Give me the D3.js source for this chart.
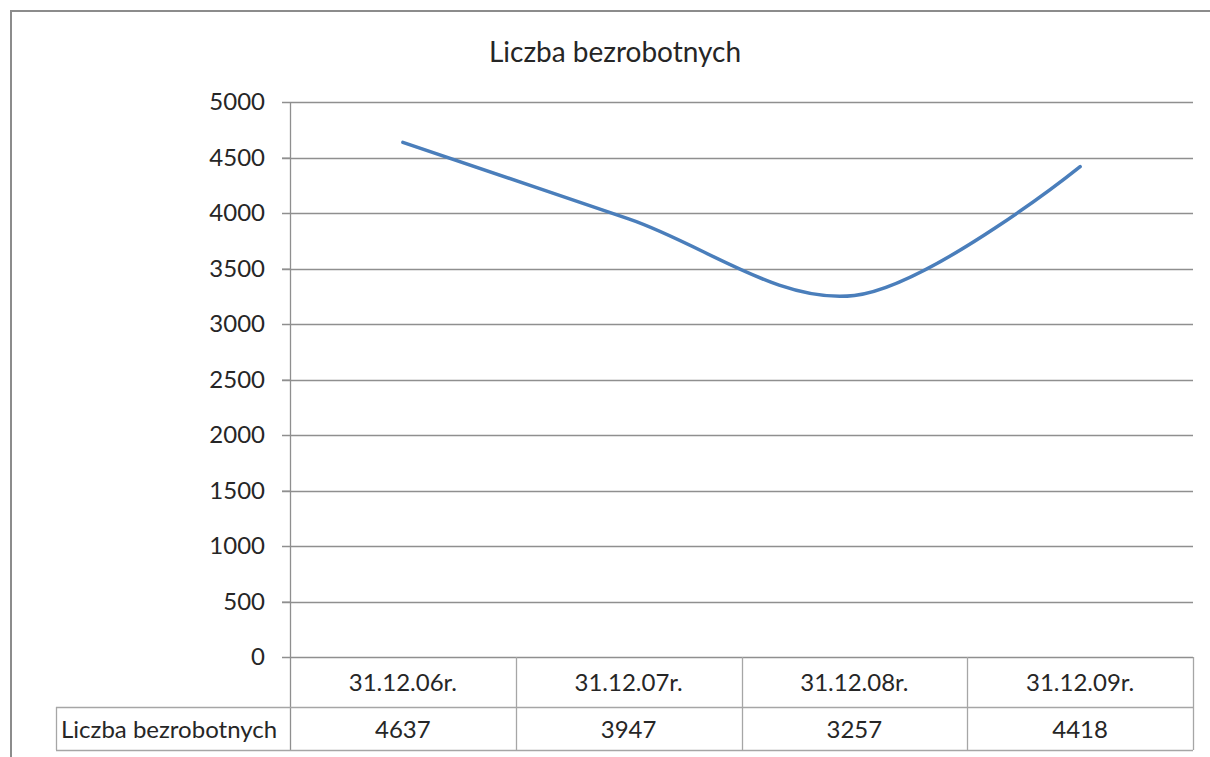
<!DOCTYPE html>
<html lang="pl">
<head>
    <meta charset="UTF-8">
    <title>Liczba bezrobotnych</title>
    <script src="https://d3js.org/d3.v7.min.js"></script>
    <style>
        body { margin: 0; background: #fff; font-family: Lato, "Open Sans", sans-serif; }
        svg text { fill: #262626; }
    </style>
</head>
<body>
    <div id="container"></div>
    <script>
        // data
        const categories = ['31.12.06r.', '31.12.07r.', '31.12.08r.', '31.12.09r.'];
        const values = [4637, 3947, 3257, 4418];
        const yTicks = [0, 500, 1000, 1500, 2000, 2500, 3000, 3500, 4000, 4500, 5000];
        const seriesName = 'Liczba bezrobotnych';
        const chartTitle = 'Liczba bezrobotnych';

        const W = 1210, H = 757;
        const plotLeft = 290, plotRight = 1193, plotTop = 102, plotBottom = 657;
        const row1 = 707, row2 = 750, legendLeft = 56;

        const svg = d3.select('#container').append('svg')
            .attr('width', W).attr('height', H);

        // outer frame (only top and left visible)
        svg.append('path')
            .attr('d', `M11,${H} V11 H${W}`)
            .attr('fill', 'none').attr('stroke', '#8c8c8c').attr('stroke-width', 2);

        const x = d3.scaleBand().domain(categories).range([plotLeft, plotRight]);
        const y = d3.scaleLinear().domain([0, 5000]).range([plotBottom, plotTop]);

        // title
        svg.append('text')
            .attr('x', 615).attr('y', 62)
            .attr('text-anchor', 'middle')
            .style('font-size', '28px')
            .text(chartTitle);

        // gridlines
        svg.append('g').selectAll('line')
            .data(yTicks)
            .enter().append('line')
            .attr('x1', plotLeft - 8).attr('x2', plotRight)
            .attr('y1', d => Math.round(y(d)) + 0.5).attr('y2', d => Math.round(y(d)) + 0.5)
            .attr('stroke', '#8f8f8f').attr('stroke-width', 1.3);

        // y axis
        const yAxis = svg.append('g')
            .attr('transform', `translate(${plotLeft},0)`)
            .call(d3.axisLeft(y).tickValues(yTicks).tickFormat(d3.format('d')).tickSize(8).tickPadding(17));
        yAxis.select('.domain').attr('stroke', '#8f8f8f').attr('stroke-width', 1.3)
            .attr('d', `M0.5,${plotTop}V${row2}`);
        yAxis.selectAll('.tick line').attr('stroke', '#8f8f8f');
        yAxis.selectAll('.tick text')
            .style('font-size', '24px').style('font-family', 'Lato, "Open Sans", sans-serif')
            .attr('fill', '#262626');

        // data table
        const tbl = svg.append('g');
        const grey = '#a6a6a6';
        // horizontal lines
        tbl.append('line').attr('x1', legendLeft).attr('x2', plotRight)
            .attr('y1', row1 + 0.5).attr('y2', row1 + 0.5).attr('stroke', grey).attr('stroke-width', 1.3);
        tbl.append('line').attr('x1', legendLeft).attr('x2', plotRight)
            .attr('y1', row2 + 0.5).attr('y2', row2 + 0.5).attr('stroke', grey).attr('stroke-width', 1.3);
        tbl.append('line').attr('x1', legendLeft + 0.5).attr('x2', legendLeft + 0.5)
            .attr('y1', row1).attr('y2', row2).attr('stroke', grey).attr('stroke-width', 1.3);
        // column separators
        tbl.selectAll('.sep')
            .data(categories)
            .enter().append('line')
            .attr('x1', d => Math.round(x(d) + x.bandwidth()) + 0.5)
            .attr('x2', d => Math.round(x(d) + x.bandwidth()) + 0.5)
            .attr('y1', plotBottom).attr('y2', row2)
            .attr('stroke', grey).attr('stroke-width', 1.3);

        tbl.selectAll('.cat')
            .data(categories)
            .enter().append('text')
            .attr('x', d => x(d) + x.bandwidth() / 2)
            .attr('y', (plotBottom + row1) / 2 + 9)
            .attr('text-anchor', 'middle')
            .style('font-size', '24px')
            .text(d => d);

        tbl.selectAll('.val')
            .data(values)
            .enter().append('text')
            .attr('x', (d, i) => x(categories[i]) + x.bandwidth() / 2)
            .attr('y', (row1 + row2) / 2 + 9)
            .attr('text-anchor', 'middle')
            .style('font-size', '24px')
            .text(d => d);

        tbl.append('text')
            .attr('x', legendLeft + 5)
            .attr('y', (row1 + row2) / 2 + 9)
            .style('font-size', '24px')
            .text(seriesName);

        // smoothed line
        const line = d3.line()
            .x((d, i) => x(categories[i]) + x.bandwidth() / 2)
            .y(d => y(d))
            .curve(d3.curveCardinal.tension(0));

        svg.append('path')
            .datum(values)
            .attr('d', line)
            .attr('fill', 'none')
            .attr('stroke', '#4a7ebb')
            .attr('stroke-width', 3.5)
            .attr('stroke-linecap', 'round');
    </script>
</body>
</html>
